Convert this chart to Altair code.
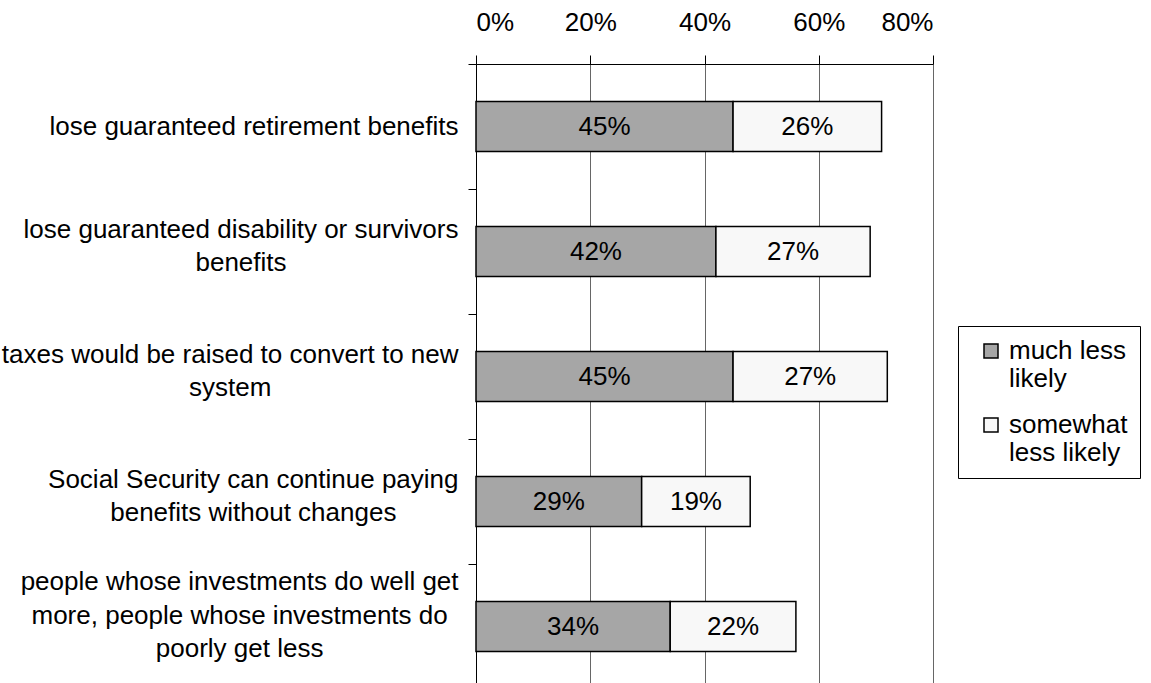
import json
import altair as alt
import pandas as pd

questions = [
    "lose guaranteed retirement benefits",
    "lose guaranteed disability or survivors\nbenefits",
    "taxes would be raised to convert to new\nsystem",
    "Social Security can continue paying\nbenefits without changes",
    "people whose investments do well get\nmore, people whose investments do\npoorly get less",
]
much_less = [0.45, 0.42, 0.45, 0.29, 0.34]
somewhat_less = [0.26, 0.27, 0.27, 0.19, 0.22]
series = ["much less likely", "somewhat less likely"]
series_lines = {"much less likely": ["much less", "likely"],
                "somewhat less likely": ["somewhat", "less likely"]}
colors = ["#a6a6a6", "#f8f8f8"]
x_ticks = [0, 0.2, 0.4, 0.6, 0.8]

rows = []
for q, a, b in zip(questions, much_less, somewhat_less):
    rows.append({"q": q, "series": series[0], "order": 0, "value": a})
    rows.append({"q": q, "series": series[1], "order": 1, "value": b})
df = pd.DataFrame(rows)

FONT = "Liberation Sans"
FS = 26
LINE_H = 33.5

# Arial / Liberation Sans advance widths (per 1000 em) used to centre the wrapped labels
ADV = {"a": 556, "b": 556, "c": 500, "d": 556, "e": 556, "f": 278, "g": 556, "h": 556,
       "i": 222, "j": 222, "k": 500, "l": 222, "m": 833, "n": 556, "o": 556, "p": 556,
       "q": 556, "r": 333, "s": 500, "t": 278, "u": 556, "v": 500, "w": 722, "x": 500,
       "y": 500, "z": 500, " ": 278, ",": 278, "S": 667}


def text_w(s):
    return sum(ADV.get(ch, 556) for ch in s) * FS / 1000.0


pad_conds = []
off_conds = []
for q in questions:
    lines = q.split("\n")
    w = max(text_w(l) for l in lines)
    test = "datum.value == " + json.dumps(q)
    pad_conds.append({"test": test, "value": round(10 + w / 2, 1)})
    off_conds.append({"test": test, "value": -(len(lines) - 1) * 22.5})

legend_expr = " : ".join(
    [f"datum.label == '{k}' ? {v!r}" for k, v in series_lines.items()] + ["datum.label"]
)
legend_expr = legend_expr.replace("\"", "'")

base = alt.Chart(df).transform_stack(
    stack="value", groupby=["q"], as_=["v0", "v1"], sort=[alt.SortField("order")]
).transform_calculate(mid="(datum.v0 + datum.v1) / 2")

y_enc = alt.Y(
    "q:N",
    sort=questions,
    title=None,
    scale=alt.Scale(paddingInner=0, paddingOuter=0),
    axis=alt.Axis(
        orient="left",
        tickBand="extent",
        tickSize=8,
        tickColor="black",
        labelPadding={"condition": pad_conds, "value": 10},
        labelOffset={"condition": off_conds, "value": 0},
        labelFont=FONT,
        labelFontSize=FS,
        labelColor="black",
        labelLimit=600,
        labelAlign="center",
        labelLineHeight=LINE_H,
        labelExpr="split(datum.label, '\\n')",
        domainColor="black",
        grid=False,
    ),
)

bars = base.mark_bar(
    stroke="black", strokeWidth=1.5, height=alt.RelativeBandSize(band=0.4)
).encode(
    x=alt.X(
        "v0:Q",
        title=None,
        scale=alt.Scale(domain=[0, 0.8], nice=False),
        axis=alt.Axis(
            orient="top",
            values=x_ticks,
            format=".0%",
            grid=True,
            gridColor="#666666",
            gridWidth=1,
            tickSize=9,
            tickColor="black",
            domainColor="black",
            labelPadding=20,
            labelFont=FONT,
            labelFontSize=FS,
            labelColor="black",
        ),
    ),
    x2="v1:Q",
    y=y_enc,
    color=alt.Color(
        "series:N",
        scale=alt.Scale(domain=series, range=colors),
        legend=alt.Legend(
            title=None,
            orient="none",
            legendX=482,
            legendY=262,
            strokeColor="black",
            padding=12,
            symbolOffset=8,
            symbolType="square",
            symbolSize=196,
            symbolStrokeColor="black",
            symbolStrokeWidth=1.5,
            symbolOpacity=1,
            labelFont=FONT,
            labelFontSize=FS,
            labelColor="black",
            labelLimit=300,
            labelExpr=legend_expr,
            rowPadding=20,
            labelOffset=5,
        ),
    ),
)

texts = base.mark_text(font=FONT, fontSize=FS, color="black").encode(
    x=alt.X("mid:Q"),
    y=alt.Y("q:N", sort=questions),
    text=alt.Text("value:Q", format=".0%"),
)

chart = alt.layer(bars, texts).properties(
    width=457,
    height=625,
    padding={"left": 476, "top": 64, "right": 218, "bottom": 0},
    autosize=alt.AutoSizeParams(type="none"),
    background="white",
).configure_view(stroke=None)

chart.save("out.html", embed_options={"renderer": "svg", "actions": False})
